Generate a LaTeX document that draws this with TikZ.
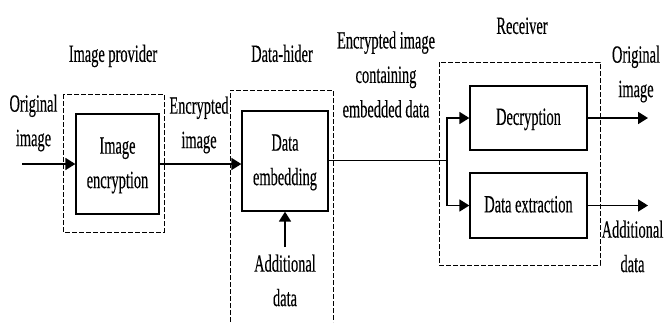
\documentclass[tikz,border=0pt]{standalone}
\usepackage{fontspec}
\setmainfont{Liberation Serif}[FakeBold=0.4]
\usepackage{graphicx}
\usetikzlibrary{arrows.meta}
\newcommand\tx[1]{\scalebox{1}[1.72]{\fontsize{14.4}{20}\selectfont\begin{tabular}{@{}c@{}}#1\end{tabular}}}
\tikzset{
  solidbox/.style={draw, line width=1.3pt, minimum width=#1, inner sep=0pt},
  dashbox/.style={draw, line width=0.9pt, dash pattern=on 5pt off 2pt},
  lbl/.style={inner sep=0pt},
  thickarr/.style={line width=1.8pt, -{Triangle[length=10pt,width=12pt]}},
  thinline/.style={line width=1pt},
}
\begin{document}
\begin{tikzpicture}[x=1pt,y=-1pt]
\useasboundingbox (0,0) rectangle (665,322);
% dashed group boxes
\draw[dashbox] (63,94) rectangle (164,232);
\draw[dashbox] (230,322) -- (230,90) -- (333,90) -- (333,322);
\draw[dashbox] (439,62) rectangle (600,265);
% inner boxes
\node[solidbox=83pt, minimum height=100pt] (enc) at (117.5,164) {\tx{Image\\encryption}};
\node[solidbox=86pt, minimum height=100pt] (emb) at (285,161) {\tx{Data\\embedding}};
\node[solidbox=117pt, minimum height=64pt] (dec) at (528.5,118) {\tx{Decryption}};
\node[solidbox=117pt, minimum height=65pt] (ext) at (528.5,205.5) {\tx{Data extraction}};
% labels
\node[lbl] (lprov) at (113,55) {\tx{Image provider}};
\node[lbl] (lhider) at (282,55) {\tx{Data-hider}};
\node[lbl] (lrecv) at (522,27) {\tx{Receiver}};
\node[lbl] (lorig) at (33.5,122) {\tx{Original\\image}};
\node[lbl] (lenc) at (199,124) {\tx{Encrypted\\image}};
\node[lbl] (lcont) at (386,76) {\tx{Encrypted image\\containing\\embedded data}};
\node[lbl] (lorig2) at (636,73) {\tx{Original\\image}};
\node[lbl] (ladd2) at (632.5,248) {\tx{Additional\\data}};
\node[lbl] (ladd) at (285,282) {\tx{Additional\\data}};
% connectors
\coordinate (in) at (22,164);
\coordinate (br) at (447,160);
\coordinate (addtail) at (285,247);
\coordinate (out1) at (648,118);
\coordinate (out2) at (648,205.5);
\draw[thickarr] (in) -- (enc.west);
\draw[thickarr] (enc.east) -- (enc.east -| emb.west);
\draw[thickarr] (addtail) -- (emb.south);
\draw[thinline] (emb.east |- br) -- (br);
\draw[thickarr] (br) |- (dec.west);
\draw[thickarr] (br) |- (ext.west);
\draw[thickarr] (dec.east) -- (out1);
\draw[thickarr] (ext.east) -- (out2);
\end{tikzpicture}
\end{document}
